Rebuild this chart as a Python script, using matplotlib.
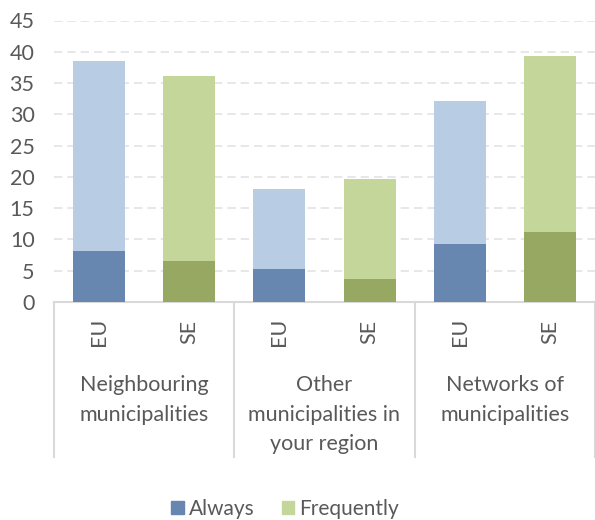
import matplotlib
matplotlib.use("Agg")
import matplotlib.pyplot as plt
from matplotlib.patches import Patch

plt.rcParams['font.family'] = ['Lato', 'DejaVu Sans']

categories = ["Neighbouring\nmunicipalities", "Other\nmunicipalities in\nyour region", "Networks of\nmunicipalities"]
regions = ["EU", "SE"]
always = [8.2, 6.5, 5.3, 3.7, 9.3, 11.2]
frequently = [30.3, 29.6, 12.8, 16.0, 22.9, 28.1]

always_colors = {"EU": "#6787B0", "SE": "#96A862"}
freq_colors = {"EU": "#B8CCE4", "SE": "#C4D69A"}
text_color = "#595959"
fs = 15.5

fig = plt.figure(figsize=(5.95, 5.2), dpi=100)
W, H = 595, 520
ax = fig.add_axes([54 / W, 1 - 302 / H, (595 - 54) / W, (302 - 20.5) / H])

labels = [r for _ in categories for r in regions]
xs = list(range(len(labels)))
width = 0.576
for x, lab, a, f in zip(xs, labels, always, frequently):
    ax.bar(x, a, width=width, color=always_colors[lab], zorder=3)
    ax.bar(x, f, bottom=a, width=width, color=freq_colors[lab], zorder=3)

ax.set_xlim(-0.5, len(labels) - 0.5)
ax.set_ylim(0, 45)
ax.set_yticks(range(0, 46, 5))
ax.tick_params(axis='y', length=0, labelsize=fs, labelcolor=text_color, pad=14)
ax.set_xticks([])
for s in ["left", "right", "top"]:
    ax.spines[s].set_visible(False)
ax.spines["bottom"].set_color("#D9D9D9")
ax.spines["bottom"].set_linewidth(1.5)
ax.yaxis.grid(True, color="#E3E3E3", linestyle=(0, (5, 3)), linewidth=1.2, zorder=0)

trans = ax.get_xaxis_transform()
ax_h = 302 - 20.5
for b in [-0.5, 1.5, 3.5, 5.5]:
    ax.plot([b, b], [0, -(457 - 302) / ax_h], transform=trans, color="#D9D9D9",
            linewidth=1.5, clip_on=False)

for x, lab in zip(xs, labels):
    ax.text(x, -(332 - 302) / ax_h, lab, transform=trans, rotation=90,
            ha='center', va='center', fontsize=fs, color=text_color)

for i, cat in enumerate(categories):
    ax.text(2 * i + 0.5, -(375 - 302) / ax_h, cat, transform=trans, ha='center',
            va='top', fontsize=fs, color=text_color, linespacing=1.6)

handles = [Patch(color=always_colors["EU"], label="Always"),
           Patch(color=freq_colors["SE"], label="Frequently")]
fig.legend(handles=handles, loc='center', bbox_to_anchor=(285 / W, 1 - 509 / H),
           ncol=2, frameon=False, fontsize=15, labelcolor=text_color,
           handlelength=0.6, handleheight=0.6, handletextpad=0.25, columnspacing=1.3)

fig.savefig("out.png", dpi=100)
